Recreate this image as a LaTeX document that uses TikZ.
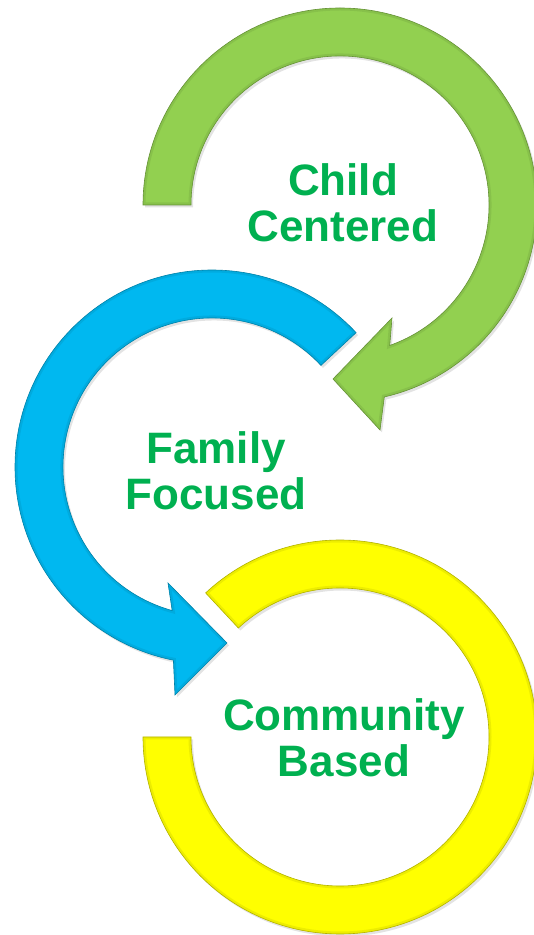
\documentclass[tikz,border=0pt]{standalone}
\usepackage{fontspec}
\setmainfont{Liberation Sans}
\usetikzlibrary{shadows}
\definecolor{arcgreen}{RGB}{146,208,80}
\definecolor{arcblue}{RGB}{0,184,240}
\definecolor{arcyellow}{RGB}{255,255,0}
\definecolor{txtgreen}{RGB}{0,176,80}
\tikzset{
  ringshape/.style={fill=#1,
     drop shadow={shadow xshift=2pt, shadow yshift=-2.5pt, opacity=0.22}},
  ringrim/.style={draw=#1!80!black, line width=5pt, opacity=0.35},
  ringedge/.style={draw=#1!70!black, line width=0.6pt, line join=miter},
  label/.style={text=txtgreen, font=\fontsize{44}{46}\selectfont\bfseries, align=center, inner sep=0pt}
}
\newcommand\yellowpath{(133:197) arc[start angle=133, end angle=-180, radius=197]
   -- (-180:149) arc[start angle=-180, end angle=133, radius=149] -- cycle}
\newcommand\greenpath{(180:197) arc[start angle=180, end angle=-77, radius=197]
   -- (40,-225) -- (-7,-174) -- (52,-113)
   -- (-70.5:149) arc[start angle=-70.5, end angle=180, radius=149] -- cycle}
\newcommand\bluepath{(43:197) arc[start angle=43, end angle=258.7, radius=197]
   -- (-37,-228) -- (15,-176) -- (-44,-116)
   -- (254.5:149) arc[start angle=254.5, end angle=43, radius=149] -- cycle}
\begin{document}
\begin{tikzpicture}[x=1pt,y=1pt]
\useasboundingbox (0,0) rectangle (534,935);
% yellow ring (bottom)
\begin{scope}[shift={(340,198)}]
\path[ringshape=arcyellow] \yellowpath;
\begin{scope}\clip \yellowpath; \path[ringrim=arcyellow] \yellowpath; \end{scope}
\path[ringedge=arcyellow] \yellowpath;
\end{scope}
% green arrow (top)
\begin{scope}[shift={(340,730)}]
\path[ringshape=arcgreen] \greenpath;
\begin{scope}\clip \greenpath; \path[ringrim=arcgreen] \greenpath; \end{scope}
\path[ringedge=arcgreen] \greenpath;
\end{scope}
% blue arrow (middle)
\begin{scope}[shift={(212,468)}]
\path[ringshape=arcblue] \bluepath;
\begin{scope}\clip \bluepath; \path[ringrim=arcblue] \bluepath; \end{scope}
\path[ringedge=arcblue] \bluepath;
\end{scope}
\node[label] (child) at (343,732) {Child\\Centered};
\node[label] (family) at (216,464.5) {Family\\Focused};
\node[label] (community) at (344,197.5) {Community\\Based};
\end{tikzpicture}
\end{document}
